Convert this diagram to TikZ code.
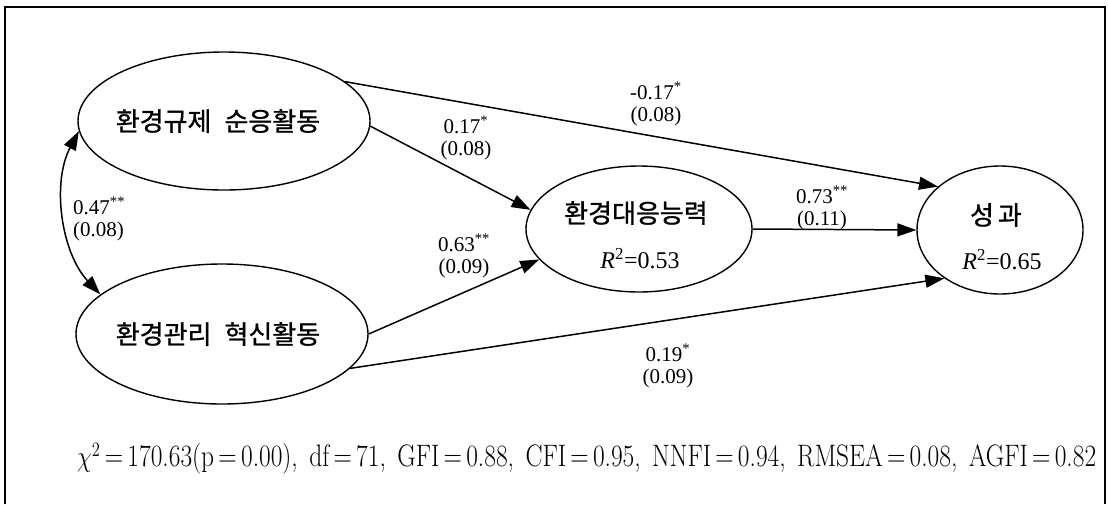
\documentclass[tikz,border=0pt]{standalone}
\usepackage{fontspec}
\usepackage{graphicx}
\usetikzlibrary{arrows.meta,shapes.geometric}
\newfontfamily\krfont[FakeBold=1]{Noto Sans CJK KR}
\newfontfamily\tmfont{Liberation Serif}
\begin{document}
\begin{tikzpicture}[x=1pt,y=-1pt,
  latent/.style={draw, ellipse, line width=1.4pt, inner sep=0pt},
  arr/.style={line width=1.5pt, -{Triangle[length=19pt,width=13pt]}},
  dbl/.style={line width=1.5pt, {Triangle[length=19pt,width=13pt]}-{Triangle[length=19pt,width=13pt]}},
  kr/.style={font=\krfont\fontsize{26}{30}\selectfont, inner sep=0pt},
  coef/.style={font=\tmfont\fontsize{21}{22}\selectfont, align=center, inner sep=0pt},
  rsq/.style={font=\tmfont\fontsize{24}{28}\selectfont, inner sep=0pt},
  stat/.style={inner sep=0pt, anchor=west}]

\useasboundingbox (0,0) rectangle (1108,504);
\draw[line width=1.6pt] (5,504) -- (5,7) -- (1105,7) -- (1105,504);

% latent variables
\node[latent, minimum width=292pt, minimum height=138pt] (E1) at (224,121) {};
\node[kr] (t1) at (218,121) {환경규제\hspace{0.5em}순응활동};
\node[latent, minimum width=292pt, minimum height=140pt] (E2) at (222,334) {};
\node[kr] (t2) at (218,334) {환경관리\hspace{0.5em}혁신활동};
\node[latent, minimum width=226pt, minimum height=126pt] (E3) at (639,229) {};
\node[kr] (t3) at (636,213) {환경대응능력};
\node[rsq] (r3) at (640,259) {\textit{R}\textsuperscript{2}=0.53};
\node[latent, minimum width=166pt, minimum height=128pt] (E4) at (1000,230) {};
\node[kr] (t4) at (996,215) {성\hspace{0.15em}과};
\node[rsq] (r4) at (1002,260) {\textit{R}\textsuperscript{2}=0.65};

% paths
\draw[arr] (E1.18) -- (E4.145);
\draw[arr] (E1.-2) -- (E3.170);
\draw[arr] (E2.0) -- (E3.197);
\draw[arr] (E2.-15) -- (E4.221);
\draw[arr] (E3.east) -- (E4.west);
\draw[dbl] (E1.184) to[out=242, in=133, looseness=0.9] (E2.162);

% coefficients
\node[coef] (c1) at (656,104) {-0.17\textsuperscript{*}\\(0.08)};
\node[coef] (c2) at (466,138) {0.17\textsuperscript{*}\\(0.08)};
\node[coef, anchor=west, align=left] (c3) at (73,219) {0.47\textsuperscript{**}\\(0.08)};
\node[coef] (c4) at (464,256) {0.63\textsuperscript{**}\\(0.09)};
\node[coef] (c5) at (822,208) {0.73\textsuperscript{**}\\(0.11)};
\node[coef] (c6) at (668,366) {0.19\textsuperscript{*}\\(0.09)};

% fit statistics
\node[stat] (fit) at (77,459) {\scalebox{1}[1.22]{\resizebox{1019pt}{!}{\fontsize{22}{26}\selectfont\addfontfeature{FakeBold=1}$\chi^2$\,=\,170.63(p\,=\,0.00),\hspace{0.45em}df\,=\,71,\hspace{0.45em}GFI\,=\,0.88,\hspace{0.45em}CFI\,=\,0.95,\hspace{0.45em}NNFI\,=\,0.94,\hspace{0.45em}RMSEA\,=\,0.08,\hspace{0.45em}AGFI\,=\,0.82}}};
\end{tikzpicture}
\end{document}
